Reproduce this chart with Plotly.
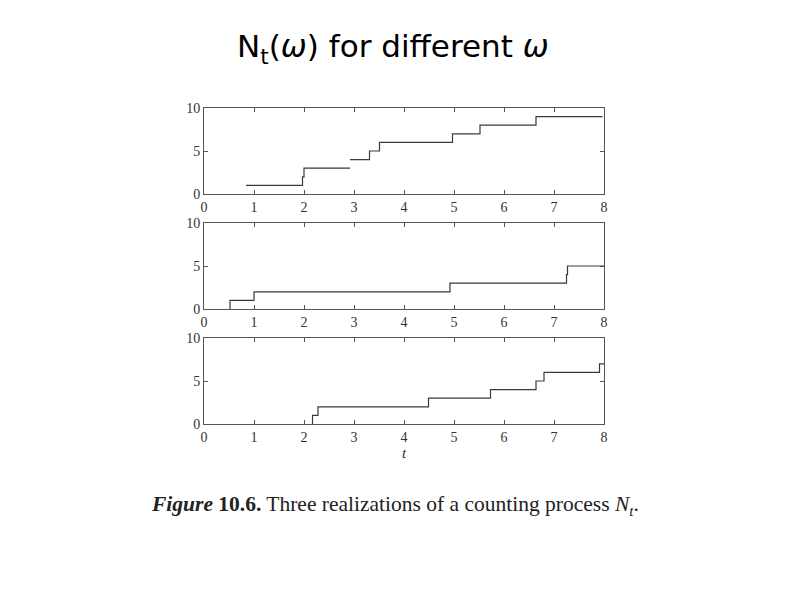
import plotly.graph_objects as go

# ---- data ----
# Realization 1: starts at level 1 (no vertical from 0); a visible break at 2.92
r1_times = [0.84, 1.97, 2.00, 2.92, 3.31, 3.51, 4.97, 5.52, 6.64, 7.97]
r1_counts = [1, 2, 3, 4, 5, 6, 7, 8, 9, 9]
r1_break_at = 2.92
# Realization 2
r2_times = [0.52, 1.00, 4.92, 7.25, 7.27, 8.00]
r2_counts = [1, 2, 3, 4, 5, 5]
# Realization 3
r3_times = [2.17, 2.28, 4.49, 5.73, 6.64, 6.80, 7.91, 8.00]
r3_counts = [1, 2, 3, 4, 5, 6, 7, 7]

x_ticks = [0, 1, 2, 3, 4, 5, 6, 7, 8]
y_ticks = [0, 5, 10]

title_text = "N<sub>t</sub>(<i>ω</i>) for different <i>ω</i>"
caption_text = "<b><i>Figure</i> 10.6.</b> Three realizations of a counting process <i>N<sub>t</sub></i>."
x_label = "<i>t</i>"

# page has an 8px body margin; size the figure to fit inside the window
OFF = 8
W, H = 794 - 2 * OFF, 595 - 2 * OFF
LINE = "#3a3a3a"
AX = "#555555"


def px(v):
    return v - OFF


def build(times, counts, from_zero, break_at=None):
    xs, ys = [], []
    if from_zero:
        xs.append(times[0]); ys.append(0)
    for k, (t, c) in enumerate(zip(times, counts)):
        if break_at is not None and t == break_at:
            xs.append(t); ys.append(counts[k - 1])
            xs.append(None); ys.append(None)
        xs.append(t); ys.append(c)
    return xs, ys


series = [
    build(r1_times, r1_counts, False, r1_break_at),
    build(r2_times, r2_counts, True),
    build(r3_times, r3_counts, True),
]

# panel pixel boxes in screen coords (top, bottom)
panels = [(108, 194), (223, 309), (338, 424)]
x0px, x1px = 204, 604

fig = go.Figure()
axfont = dict(family="Liberation Serif, Times New Roman, serif", size=14, color="#333")
for i, (xs, ys) in enumerate(series):
    n = "" if i == 0 else str(i + 1)
    fig.add_trace(go.Scatter(x=xs, y=ys, mode="lines", line_shape="hv",
                             line=dict(color=LINE, width=1.2),
                             xaxis="x" + n, yaxis="y" + n, showlegend=False,
                             connectgaps=False, hoverinfo="skip"))
    top, bot = panels[i]
    fig.update_layout(**{
        "xaxis" + n: dict(domain=[px(x0px) / W, px(x1px) / W], range=[0, 8],
                          tickvals=x_ticks, ticks="inside", ticklen=4,
                          tickcolor=AX, showline=True, linecolor=AX, linewidth=1,
                          mirror="ticks", showgrid=False, zeroline=False,
                          tickfont=axfont, anchor="y" + n, fixedrange=True,
                          automargin=False),
        "yaxis" + n: dict(domain=[1 - px(bot) / H, 1 - px(top) / H], range=[0, 10],
                          tickvals=y_ticks, ticks="inside", ticklen=4,
                          tickcolor=AX, showline=True, linecolor=AX, linewidth=1,
                          mirror="ticks", showgrid=False, zeroline=False,
                          tickfont=axfont, anchor="x" + n, fixedrange=True,
                          automargin=False),
    })

fig.update_layout(xaxis3_title=dict(text=x_label, standoff=2,
                                    font=dict(family="Liberation Serif, serif", size=15, color="#333")))

fig.add_annotation(text=title_text, x=px(393) / W, y=1 - px(49) / H, xref="paper", yref="paper",
                   showarrow=False, xanchor="center", yanchor="middle",
                   font=dict(family="Comic Sans MS, DejaVu Sans, sans-serif", size=31, color="#000"))
fig.add_annotation(text=caption_text, x=px(395) / W, y=1 - px(506) / H, xref="paper", yref="paper",
                   showarrow=False, xanchor="center", yanchor="middle",
                   font=dict(family="Liberation Serif, Times New Roman, serif", size=21.5, color="#222"))

fig.update_layout(width=W, height=H, margin=dict(l=0, r=0, t=0, b=0),
                  paper_bgcolor="white", plot_bgcolor="white")

fig.write_html("out.html")
